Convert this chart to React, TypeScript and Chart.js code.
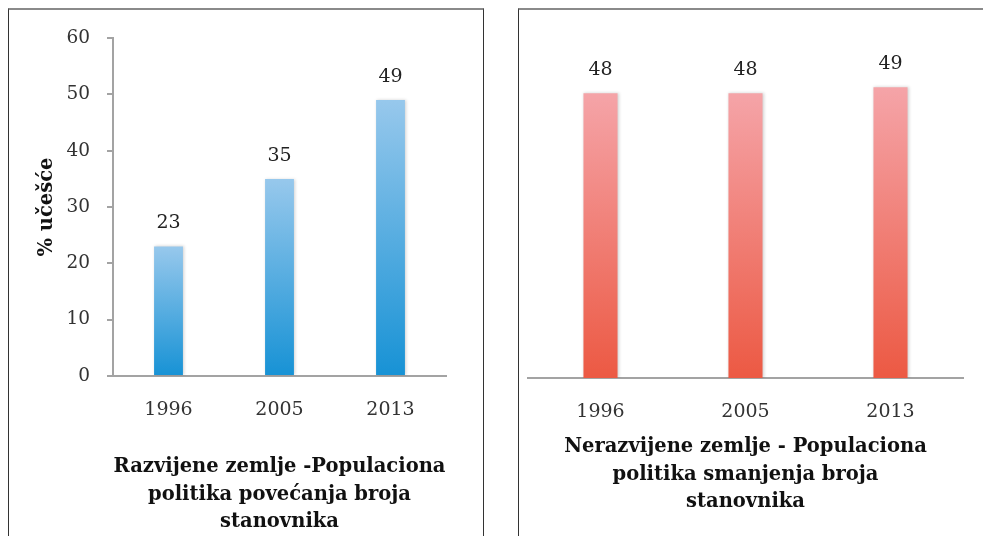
import React, { useEffect, useRef } from "react";
import { Chart, registerables } from "chart.js";

Chart.register(...registerables);

const years = ["1996", "2005", "2013"];
const developedValues = [23, 35, 49];
const undevelopedValues = [48, 48, 49];
const yAxisMin = 0;
const yAxisMax = 60;
const yAxisStep = 10;
const yAxisTitle = "% učešće";
const developedTitle = ["Razvijene zemlje -Populaciona", "politika povećanja broja", "stanovnika"];
const undevelopedTitle = ["Nerazvijene zemlje - Populaciona", "politika smanjenja broja", "stanovnika"];
const blueStops = ["#97c8ec", "#1792d5"];
const redStops = ["#f5a4a8", "#ec5943"];

const SERIF = '"DejaVu Serif", serif';
const AXIS_GRAY = "#a3a3a3";

const gradientFill = (stops: string[]) => (ctx: any) => {
  const chart = ctx.chart;
  const y = chart.scales && chart.scales.y;
  if (!y || ctx.type !== "data") return stops[1];
  const top = y.getPixelForValue(ctx.raw);
  const bottom = y.getPixelForValue(0);
  if (!isFinite(top) || !isFinite(bottom) || top === bottom) return stops[1];
  const g = chart.ctx.createLinearGradient(0, top, 0, bottom);
  g.addColorStop(0, stops[0]);
  g.addColorStop(1, stops[1]);
  return g;
};

const valueLabels = {
  id: "valueLabels",
  afterDatasetsDraw(chart: any) {
    const { ctx } = chart;
    const meta = chart.getDatasetMeta(0);
    meta.data.forEach((bar: any, i: number) => {
      const v = chart.data.datasets[0].data[i];
      ctx.save();
      ctx.font = `19px ${SERIF}`;
      ctx.fillStyle = "#222";
      ctx.textAlign = "center";
      ctx.textBaseline = "middle";
      ctx.fillText(String(v), bar.x, bar.y - 23);
      ctx.restore();
    });
  },
};

const barShadow = {
  id: "barShadow",
  beforeDatasetDraw(chart: any) {
    const { ctx } = chart;
    ctx.save();
    ctx.shadowColor = "rgba(0,0,0,0.18)";
    ctx.shadowBlur = 3;
    ctx.shadowOffsetX = 1;
    ctx.shadowOffsetY = 0;
  },
  afterDatasetDraw(chart: any) {
    chart.ctx.restore();
  },
};

function makeConfig(opts: {
  values: number[];
  stops: string[];
  title: string[];
  showY: boolean;
  padding: any;
  barPct: number;
  xHeight: number;
  titlePadBottom: number;
}): any {
  return {
    type: "bar",
    data: {
      labels: years,
      datasets: [
        {
          data: opts.values,
          backgroundColor: gradientFill(opts.stops),
          borderWidth: 0,
          categoryPercentage: 1,
          barPercentage: opts.barPct,
        },
      ],
    },
    options: {
      responsive: false,
      animation: false,
      events: [],
      layout: { padding: opts.padding },
      plugins: {
        legend: { display: false },
        tooltip: { enabled: false },
        title: { display: false },
      },
      scales: {
        x: {
          grid: { display: false, drawTicks: false },
          border: { display: true, color: AXIS_GRAY, width: 2 },
          ticks: {
            font: { family: SERIF, size: 19 },
            color: "#333",
            padding: 23,
          },
          title: {
            display: true,
            text: opts.title,
            font: { family: SERIF, size: 19.5, weight: "bold", lineHeight: 1.42 },
            color: "#111",
            padding: { top: 0, bottom: opts.titlePadBottom },
          },
          afterFit: (s: any) => {
            s.height = opts.xHeight;
          },
        },
        y: {
          display: opts.showY,
          min: yAxisMin,
          max: yAxisMax,
          ticks: {
            stepSize: yAxisStep,
            font: { family: SERIF, size: 18.5 },
            color: "#333",
            padding: 17,
          },
          grid: {
            display: true,
            drawOnChartArea: false,
            drawTicks: true,
            tickLength: 6,
            color: AXIS_GRAY,
            lineWidth: 2,
          },
          border: { display: true, color: AXIS_GRAY, width: 2 },
          title: {
            display: true,
            text: yAxisTitle,
            font: { family: SERIF, size: 19.5, weight: "bold" },
            color: "#111",
            padding: { top: 26, bottom: 0 },
          },
          afterFit: (s: any) => {
            if (opts.showY) s.width = 104;
          },
        },
      },
    },
    plugins: [barShadow, valueLabels],
  };
}

export default function App() {
  const leftRef = useRef<HTMLCanvasElement>(null);
  const rightRef = useRef<HTMLCanvasElement>(null);

  useEffect(() => {
    const left = new Chart(
      leftRef.current as HTMLCanvasElement,
      makeConfig({
        values: developedValues,
        stops: blueStops,
        title: developedTitle,
        showY: true,
        padding: { left: 0, right: 37, top: 24, bottom: 0 },
        barPct: 0.26,
        xHeight: 160,
        titlePadBottom: 0,
      })
    );
    const right = new Chart(
      rightRef.current as HTMLCanvasElement,
      makeConfig({
        values: undevelopedValues,
        stops: redStops,
        title: undevelopedTitle,
        showY: false,
        padding: { left: 9, right: 20, top: 12, bottom: 0 },
        barPct: 0.235,
        xHeight: 158,
        titlePadBottom: 20,
      })
    );
    return () => {
      left.destroy();
      right.destroy();
    };
  }, []);

  return (
    <div
      style={{
        position: "absolute",
        left: 0,
        top: 0,
        width: 983,
        height: 536,
        overflow: "hidden",
        background: "#fff",
      }}
    >
      <div
        style={{
          position: "absolute",
          left: 8,
          top: 8,
          width: 476,
          height: 560,
          boxSizing: "border-box",
          borderTop: "2px solid #8a8a8a",
          borderLeft: "1px solid #333",
          borderRight: "1px solid #333",
        }}
      />
      <div
        style={{
          position: "absolute",
          left: 518,
          top: 8,
          width: 500,
          height: 560,
          boxSizing: "border-box",
          borderTop: "2px solid #8a8a8a",
          borderLeft: "1px solid #333",
        }}
      />
      <canvas
        ref={leftRef}
        width={474}
        height={526}
        style={{ position: "absolute", left: 9, top: 10, width: 474, height: 526 }}
      />
      <canvas
        ref={rightRef}
        width={464}
        height={526}
        style={{ position: "absolute", left: 519, top: 10, width: 464, height: 526 }}
      />
    </div>
  );
}
